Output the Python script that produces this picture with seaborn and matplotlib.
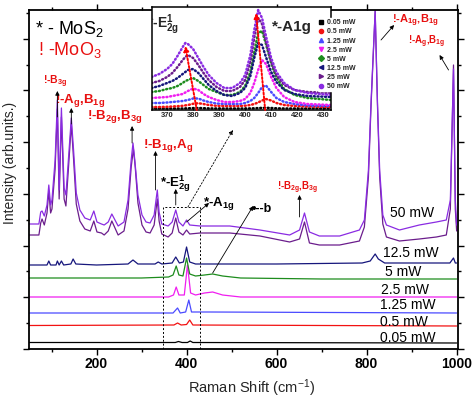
import matplotlib
matplotlib.use('Agg')
import matplotlib.pyplot as plt
import seaborn as sns
from matplotlib.lines import Line2D
from matplotlib.ticker import MultipleLocator

# ---- main spectra: Raman shift (cm-1) vs stacked intensity (arb. units) ----
x_p05 = [50, 375, 382, 390, 402, 408, 414, 1000]
y_p05 = [6.5, 6.5, 7.5, 6.5, 6.5, 8, 6.5, 6]

x_p5 = [50, 372, 380, 388, 400, 407, 414, 1000]
y_p5 = [23.5, 24, 26, 24, 24.5, 29, 24, 23]

x_1p25 = [50, 370, 380, 386, 398, 405, 411, 450, 1000]
y_1p25 = [36, 36, 41, 36, 37, 49, 37, 37, 36]

x_2p5 = [50, 360, 371, 377, 383, 395, 402, 409, 420, 440, 458, 480, 520, 1000]
y_2p5 = [52, 52, 54, 62, 54, 54, 84, 56, 54, 56, 57, 54, 52, 52]

x_5 = [50, 300, 360, 370, 377, 383, 392, 400, 407, 420, 440, 458, 480, 520, 700, 1000]
y_5 = [71, 71, 72, 74, 83, 74, 73, 91, 75, 73, 74, 75, 73, 71, 70, 70]

x_12p5 = [50, 90, 94, 98, 110, 113, 117, 122, 127, 143, 148, 154, 200, 270, 281, 292,
          330, 337, 345, 368, 376, 384, 393, 400, 407, 420, 600, 790, 808, 819, 826,
          840, 900, 985, 993, 997, 1000]
y_12p5 = [84, 84, 88, 84, 84, 88, 84, 88, 84, 85, 90, 85, 84, 85, 89, 85,
          85, 87, 85, 86, 92, 86, 87, 102, 87, 85, 85, 86, 88, 95, 90,
          86, 86, 86, 91, 86, 86]

x_25 = [50, 72, 76, 79, 84, 90, 94, 98, 101, 108, 113, 117, 122, 128, 132, 139, 144,
        149, 155, 163, 174, 186, 194, 201, 211, 217, 226, 234, 248, 261, 270, 277,
        282, 286, 292, 301, 310, 319, 328, 335, 339, 345, 359, 368, 376, 383, 392,
        400, 407, 430, 496, 563, 629, 651, 662, 673, 695, 740, 784, 795, 804, 810,
        819, 824, 829, 836, 844, 873, 917, 955, 977, 986, 993, 997, 1000]
y_25 = [114, 114, 126, 130, 124, 136, 158, 136, 140, 180, 240, 150, 232, 150, 143, 190, 225,
        190, 145, 128, 120, 118, 128, 117, 116, 114, 118, 128, 114, 118, 140, 182,
        200, 182, 146, 124, 117, 116, 124, 150, 128, 115, 112, 116, 131, 117, 114,
        119, 115, 116, 116, 113, 107, 110, 127, 106, 104, 104, 108, 122, 172, 245,
        338, 245, 172, 125, 112, 108, 110, 112, 114, 140, 284, 140, 118]

x_50 = [50, 72, 76, 79, 84, 90, 94, 98, 101, 108, 113, 117, 122, 128, 132, 139, 144,
        149, 155, 163, 174, 186, 194, 201, 211, 217, 226, 234, 248, 261, 270, 277,
        281, 285, 292, 301, 310, 319, 328, 335, 339, 345, 359, 368, 376, 383, 392,
        400, 407, 430, 496, 563, 629, 651, 662, 673, 695, 740, 784, 795, 804, 810,
        819, 824, 829, 836, 844, 873, 917, 955, 977, 986, 993, 997, 1000]
y_50 = [125, 125, 137, 138, 133, 144, 164, 144, 149, 189, 249, 159, 241, 161, 154, 199, 231,
        199, 156, 139, 131, 129, 138, 127, 125, 124, 127, 135, 123, 127, 149, 189,
        206, 189, 154, 134, 127, 126, 134, 159, 137, 125, 123, 127, 139, 127, 123,
        129, 124, 123, 123, 119, 114, 119, 136, 117, 113, 113, 119, 129, 179, 249,
        338, 249, 179, 134, 124, 119, 124, 127, 129, 149, 280, 149, 124]

powers = ['0.05 mW', '0.5 mW', '1.25 mW', '2.5 mW', '5 mW', '12.5 mW', '25 mW', '50 mW']
colors = ['black', '#f21212', '#4a4aff', '#f01ef0', '#1d8c1d', '#16167c', '#6b1d8c', '#8a2be2']
markers = ['s', 'o', '^', 'v', 'D', '<', '>', 'o']

# ---- inset: zoom on E2g / A1g region ----
ins_x = [364, 367, 370, 372, 374, 376, 377, 378, 380, 382, 384, 386, 389, 392,
         395, 398, 400, 402, 403.5, 405, 406.5, 408, 410, 412, 415, 419, 424, 433]
ins_p05 = [1.5, 1.5, 1.5, 1.5, 1.5, 1.5, 1.6, 1.7, 1.9, 2, 1.8, 1.6, 1.5, 1.5,
           1.5, 1.5, 1.5, 1.6, 1.7, 1.9, 2.1, 2.2, 2, 1.7, 1.5, 1.5, 1.5, 1.5]
ins_p5 = [3, 3, 3.2, 3.5, 3.8, 4.2, 4.6, 5, 6.2, 6.8, 6, 5, 4.2, 4,
          4, 4, 4.3, 5, 6, 7.5, 9.5, 11, 9.5, 7, 5, 4, 3.5, 3]
ins_1p25 = [7, 7, 7.5, 8, 8.5, 9, 9.5, 10, 11.5, 11.5, 9.5, 8, 6.5, 6,
            6, 6, 7, 9, 12, 17, 23, 24.5, 18, 12, 8, 6, 4.5, 4]
ins_2p5 = [12, 12.5, 13, 14, 15, 16, 17.5, 19, 21.5, 20, 16, 13, 10, 8,
           8, 9, 11, 17, 27, 40, 50, 46, 33, 22, 13, 8, 6, 5]
ins_5 = [18, 19, 21, 22, 24, 27, 29, 30, 32, 29, 25, 21, 18, 15,
         15, 18, 24, 38, 58, 77, 79, 66, 47, 32, 21, 15, 12, 10]
ins_12p5 = [22, 24, 27, 29, 32, 36, 38, 40, 41, 37, 31, 25, 19, 15,
            14, 17, 22, 34, 52, 67, 65, 53, 38, 28, 20, 16, 14, 13]
ins_25 = [27, 29, 33, 37, 43, 50, 53, 55, 52, 45, 37, 30, 23, 19,
          19, 23, 30, 48, 72, 92, 86, 68, 48, 35, 25, 20, 18, 17]
ins_50 = [33, 36, 41, 46, 54, 63, 67, 66, 61, 52, 43, 35, 27, 22,
          22, 27, 35, 55, 80, 100, 92, 74, 52, 38, 27, 20, 17, 15]

xtick_labels = ['200', '400', '600', '800', '1000']
inset_ticks = [370, 380, 390, 400, 410, 420, 430]

sns.set_style('ticks')
plt.rcParams['font.family'] = ['Liberation Sans', 'DejaVu Sans']
plt.rcParams['mathtext.fontset'] = 'custom'
plt.rcParams['mathtext.rm'] = 'Liberation Sans'
plt.rcParams['mathtext.bf'] = 'Liberation Sans:bold'
plt.rcParams['mathtext.it'] = 'Liberation Sans:italic'

W, H = 474, 399
fig = plt.figure(figsize=(W / 100, H / 100), dpi=100)
ax = fig.add_axes([29 / W, 1 - 349 / H, 429 / W, 339 / H])

main_x = [x_p05, x_p5, x_1p25, x_2p5, x_5, x_12p5, x_25, x_50]
main_y = [y_p05, y_p5, y_1p25, y_2p5, y_5, y_12p5, y_25, y_50]
for xs, ys, c in zip(main_x, main_y, colors):
    sns.lineplot(x=xs, y=ys, ax=ax, color=c, lw=0.9, estimator=None, sort=False)

ax.set_xlim(50, 1003)
ax.set_ylim(0, 339)
ax.set_xticks([200, 400, 600, 800, 1000])
ax.set_xticklabels(xtick_labels, fontsize=10, fontweight='bold')
ax.xaxis.set_minor_locator(MultipleLocator(100))
ax.yaxis.set_major_locator(MultipleLocator(51.7))
ax.yaxis.set_minor_locator(MultipleLocator(25.85))
ax.tick_params(which='both', direction='out', top=True, right=True, labelleft=False,
               width=1, colors='black', pad=2)
ax.tick_params(which='major', length=4)
ax.tick_params(which='minor', length=2.5)
for s in ax.spines.values():
    s.set_linewidth(1.3)
    s.set_color('black')

# power labels
label_pos = [(829, 11), (829, 27), (829, 44), (833, 59), (840, 77), (836, 96), (851, 136)]
for (lx, ly), txt in zip(label_pos, ['0.05 mW', '0.5 mW', '1.25 mW', '2.5 mW', '5 mW', '12.5 mW', '50 mW']):
    ax.text(lx, ly, txt, fontsize=10, ha='left', va='center', color='black')

ax.text(63, 320, r'* - MoS$_\mathrm{2}$', fontsize=13, ha='left', va='center', color='black')
ax.text(70, 299, r'! -MoO$_\mathrm{3}$', fontsize=13, ha='left', va='center', color='#e81010')

red_labels = [
    (81, 267, r'!-B$_\mathbf{3g}$', 7.5),
    (108, 248, r'!-A$_\mathbf{g}$,B$_\mathbf{1g}$', 9.5),
    (179, 232, r'!-B$_\mathbf{2g}$,B$_\mathbf{3g}$', 9.5),
    (303, 203, r'!-B$_\mathbf{1g}$,A$_\mathbf{g}$', 9.5),
    (601, 161, r'!-B$_\mathbf{2g}$,B$_\mathbf{3g}$', 7),
    (856, 328, r'!-A$_\mathbf{1g}$,B$_\mathbf{1g}$', 8),
    (891, 307, r'!-A$_\mathbf{g}$,B$_\mathbf{1g}$', 7),
]
for lx, ly, txt, fs in red_labels:
    ax.text(lx, ly, txt, fontsize=fs, fontweight='bold', color='#e81010', ha='left', va='center')

black_labels = [
    (341, 165, r'*-E$^\mathbf{1}_\mathbf{2g}$', 9.5),
    (436, 146, r'*-A$_\mathbf{1g}$', 9.5),
    (545, 140, '•--b', 9),
]
for lx, ly, txt, fs in black_labels:
    ax.text(lx, ly, txt, fontsize=fs, fontweight='bold', color='black', ha='left', va='center')

arrows = [
    ((113, 232), (113, 258)),
    ((144, 225), (144, 241)),
    ((279, 206), (279, 223)),
    ((331, 159), (331, 198)),
    ((376, 144), (376, 160)),
    ((400, 127), (450, 146)),
    ((458, 76), (548, 143)),
    ((651, 132), (651, 154)),
    ((832, 309), (861, 324)),
    ((982, 279), (962, 294)),
]
for start, end in arrows:
    ax.annotate('', xy=end, xytext=start,
                arrowprops=dict(arrowstyle='-|>', color='black', lw=0.6, mutation_scale=6,
                                shrinkA=0, shrinkB=0))

# dashed box marking the zoomed region and pointer to the inset
ax.plot([347, 347, 429, 429], [0, 142, 142, 0], color='black', lw=0.7, ls=(0, (2, 2)))
ax.annotate('', xy=(503, 219), xytext=(403, 142),
            arrowprops=dict(arrowstyle='-|>', color='black', lw=0.6, ls=(0, (2, 2)),
                            mutation_scale=6, shrinkA=0, shrinkB=0))

fig.text(10 / W, 1 - 163 / H, 'Intensity (arb.units.)', rotation=90, fontsize=10,
         ha='center', va='center')
fig.text(252 / W, 1 - 388 / H, r'Raman Shift (cm$^\mathrm{-1}$)', fontsize=10.5,
         ha='center', va='center')

# ---- inset ----
ax_in = fig.add_axes([152 / W, 1 - 110 / H, 179 / W, 103 / H])
ins_y = [ins_p05, ins_p5, ins_1p25, ins_2p5, ins_5, ins_12p5, ins_25, ins_50]
for ys, c in zip(ins_y, colors):
    sns.lineplot(x=ins_x, y=ys, ax=ax_in, color=c, lw=1.8, ls=(0, (0.4, 1.1)),
                 dash_capstyle='round', estimator=None, sort=False)
ax_in.set_xlim(364.2, 433)
ax_in.set_ylim(0, 103)
ax_in.set_xticks(inset_ticks)
ax_in.set_xticklabels([str(t) for t in inset_ticks], fontsize=5.5, fontweight='bold')
ax_in.set_yticks([])
ax_in.tick_params(axis='x', direction='in', length=2, pad=1.5, width=0.8)
for s in ax_in.spines.values():
    s.set_linewidth(1.1)
    s.set_color('black')

for start, end in [((381.4, 0), (377, 64)), ((407.7, 0), (404.2, 97))]:
    ax_in.annotate('', xy=end, xytext=start,
                   arrowprops=dict(arrowstyle='-|>', color='red', lw=1.4, ls=(0, (1, 1)),
                                   mutation_scale=7, shrinkA=0, shrinkB=0))

ax_in.text(362.3, 85, r'*-E$^\mathbf{1}_\mathbf{2g}$', fontsize=10, fontweight='bold',
           ha='left', va='center', clip_on=True)
ax_in.text(410.5, 83, '*-A1g', fontsize=11, fontweight='bold', ha='left', va='center')

handles = [Line2D([], [], ls='none', marker=m, color=c, markersize=3)
           for m, c in zip(markers, colors)]
fig.legend(handles, powers, loc='upper left', bbox_to_anchor=(318 / W, 1 - 18 / H),
           frameon=True, facecolor='white', edgecolor='white', framealpha=1,
           prop={'size': 5, 'weight': 'bold'}, handlelength=0.6, handletextpad=0.5,
           labelspacing=0.3, borderpad=0.2, borderaxespad=0)

fig.savefig('out.png', dpi=100)
